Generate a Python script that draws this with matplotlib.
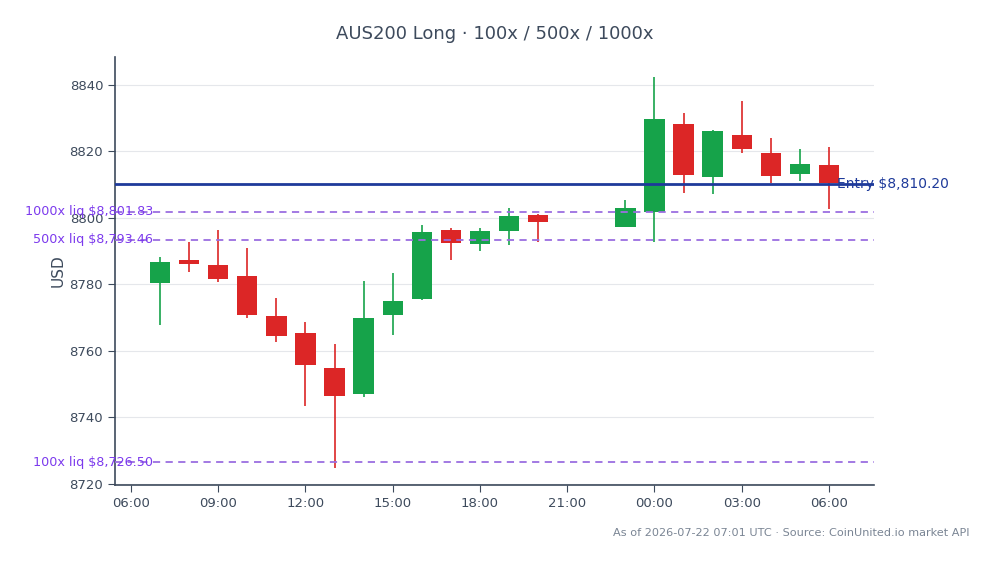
#!/usr/bin/env python3
"""
Hourly candles for AUS200 with entry price and liquidation levels.
Writes out.png in the current folder.
"""

from datetime import datetime

import matplotlib
matplotlib.use("Agg")
import matplotlib.pyplot as plt
import matplotlib.dates as mdates
import matplotlib.transforms as mtransforms

# Hourly candles (UTC), 21:00 and 22:00 missing in the feed
times = [
    "2026-07-21 07:00", "2026-07-21 08:00", "2026-07-21 09:00", "2026-07-21 10:00",
    "2026-07-21 11:00", "2026-07-21 12:00", "2026-07-21 13:00", "2026-07-21 14:00",
    "2026-07-21 15:00", "2026-07-21 16:00", "2026-07-21 17:00", "2026-07-21 18:00",
    "2026-07-21 19:00", "2026-07-21 20:00", "2026-07-21 23:00", "2026-07-22 00:00",
    "2026-07-22 01:00", "2026-07-22 02:00", "2026-07-22 03:00", "2026-07-22 04:00",
    "2026-07-22 05:00", "2026-07-22 06:00",
]
opens = [8780.4, 8787.4, 8785.9, 8782.6, 8770.5, 8765.3, 8754.9, 8747.0,
         8770.9, 8775.5, 8796.4, 8792.1, 8796.2, 8800.9, 8797.4, 8801.9,
         8828.3, 8812.4, 8825.0, 8819.5, 8813.3, 8815.8]
highs = [8788.2, 8792.8, 8796.4, 8791.1, 8775.9, 8768.7, 8762.1, 8781.1,
         8783.5, 8797.9, 8797.0, 8797.0, 8803.0, 8801.1, 8805.4, 8842.5,
         8831.7, 8826.3, 8835.3, 8824.1, 8820.8, 8821.4]
lows = [8767.9, 8783.8, 8780.8, 8770.0, 8762.7, 8743.5, 8724.9, 8746.3,
        8764.8, 8775.3, 8787.4, 8790.1, 8792.0, 8792.9, 8797.2, 8792.9,
        8807.6, 8807.2, 8819.6, 8810.6, 8811.2, 8802.8]
closes = [8786.7, 8786.3, 8781.7, 8770.9, 8764.6, 8755.9, 8746.4, 8769.8,
          8775.0, 8795.8, 8792.4, 8796.1, 8800.6, 8798.9, 8803.0, 8829.8,
          8813.0, 8826.2, 8820.8, 8812.7, 8816.2, 8810.6]

entry_price = 8810.20
liq_labels = ["100x", "500x", "1000x"]
liq_prices = [8726.50, 8793.46, 8801.83]

GREEN = "#16a34a"
RED = "#dc2626"
TEXT = "#3d4a5c"


def main():
    t = [datetime.strptime(s, "%Y-%m-%d %H:%M") for s in times]
    x = mdates.date2num(t)

    fig = plt.figure(figsize=(9.93, 5.64), dpi=100)
    ax = fig.add_axes([115 / 993, 1 - 485 / 564, 759 / 993, 428 / 564])

    # candles
    width = 0.7 / 24
    for xi, o, h, l, c in zip(x, opens, highs, lows, closes):
        col = GREEN if c >= o else RED
        ax.vlines(xi, l, h, color=col, linewidth=1.2, zorder=2)
        ax.bar(xi, abs(c - o), bottom=min(o, c), width=width, color=col,
               linewidth=0, zorder=3)

    # entry + liquidation levels
    ax.axhline(entry_price, color="#1e3a9a", linewidth=2, zorder=4)
    blend = mtransforms.blended_transform_factory(ax.transAxes, ax.transData)
    ax.text(0.951, entry_price, f"Entry ${entry_price:,.2f}", transform=blend,
            ha="left", va="center", fontsize=10, color="#1e3a9a", zorder=5)
    for lab, p in zip(liq_labels, liq_prices):
        ax.axhline(p, color="#9b6ee0", linewidth=1.3, linestyle=(0, (4, 3)), zorder=4)
        ax.text(0.05, p, f"{lab} liq ${p:,.2f}", transform=blend, ha="right",
                va="center", fontsize=9.2, color="#7c3aed", zorder=5)

    # axes
    x0 = mdates.date2num(datetime(2026, 7, 21, 5, 27))
    x1 = mdates.date2num(datetime(2026, 7, 22, 7, 33))
    ax.set_xlim(x0, x1)
    ax.set_ylim(8719.7, 8848.4)
    ax.set_yticks([8720, 8740, 8760, 8780, 8800, 8820, 8840])
    ax.xaxis.set_major_locator(mdates.HourLocator(byhour=[0, 3, 6, 9, 12, 15, 18, 21]))
    ax.xaxis.set_major_formatter(mdates.DateFormatter("%H:%M"))

    ax.grid(True, axis="y", color="#e5e7eb", linewidth=0.8)
    ax.set_axisbelow(True)
    for side in ("top", "right"):
        ax.spines[side].set_visible(False)
    for side in ("left", "bottom"):
        ax.spines[side].set_color(TEXT)
        ax.spines[side].set_linewidth(1.2)
    ax.tick_params(colors=TEXT, labelsize=9.5, length=5)
    ax.set_ylabel("USD", fontsize=11, color=TEXT, labelpad=3)

    ax.set_title("AUS200 Long · 100x / 500x / 1000x", fontsize=13, color=TEXT, pad=13)
    fig.text(0.976, 0.055, "As of 2026-07-22 07:01 UTC · Source: CoinUnited.io market API",
             ha="right", va="center", fontsize=8.15, color="#7a8594")

    fig.savefig("out.png", dpi=100)
    plt.close(fig)


if __name__ == "__main__":
    main()
